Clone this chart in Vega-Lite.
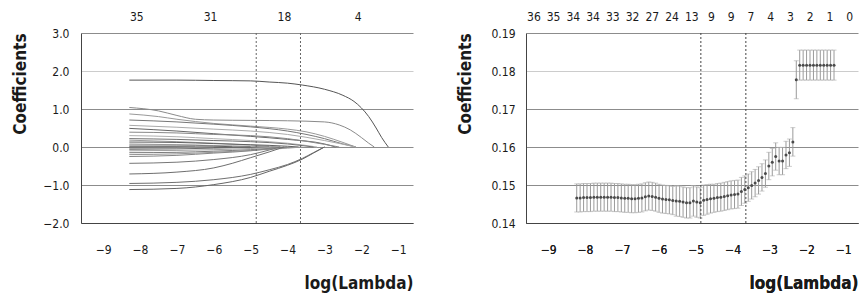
{
  "$schema": "https://vega.github.io/schema/vega-lite/v6.json",
  "background": "white",
  "padding": {"left": 10, "top": 10, "right": 5, "bottom": 5},
  "spacing": 113,
  "bounds": "flush",
  "config": {
    "font": "DejaVu Sans Condensed, Liberation Sans, sans-serif",
    "view": {"stroke": null},
    "axis": {"ticks": false, "tickSize": 0, "labelFontSize": 12, "labelColor": "#1a1a1a", "titleFontSize": 17, "titleFontWeight": "bold", "titleColor": "#1a1a1a", "domainColor": "#444444", "labelOverlap": false, "labelFlush": false, "labelBound": false}
  },
  "hconcat": [
    {
      "width": 332,
      "height": 190,
      "resolve": {"axis": {"x": "independent"}},
      "layer": [
        {
          "data": {"values": [
            {"p":"p01","x":-8.29,"y":1.76},{"p":"p01","x":-7,"y":1.76},{"p":"p01","x":-6,"y":1.75},{"p":"p01","x":-5,"y":1.74},{"p":"p01","x":-4.5,"y":1.71},{"p":"p01","x":-4,"y":1.68},{"p":"p01","x":-3.6,"y":1.63},{"p":"p01","x":-3,"y":1.52},{"p":"p01","x":-2.5,"y":1.36},{"p":"p01","x":-2.2,"y":1.2},{"p":"p01","x":-2,"y":1.03},{"p":"p01","x":-1.8,"y":0.8},{"p":"p01","x":-1.6,"y":0.5},{"p":"p01","x":-1.45,"y":0.25},{"p":"p01","x":-1.27,"y":0},
            {"p":"p02","x":-8.29,"y":1.04},{"p":"p02","x":-7.5,"y":0.95},{"p":"p02","x":-7,"y":0.83},{"p":"p02","x":-6.5,"y":0.73},{"p":"p02","x":-6,"y":0.71},{"p":"p02","x":-5,"y":0.7},{"p":"p02","x":-4,"y":0.69},{"p":"p02","x":-3,"y":0.66},{"p":"p02","x":-2.6,"y":0.58},{"p":"p02","x":-2.3,"y":0.45},{"p":"p02","x":-2,"y":0.25},{"p":"p02","x":-1.8,"y":0.1},{"p":"p02","x":-1.65,"y":0},
            {"p":"p03","x":-8.29,"y":0.87},{"p":"p03","x":-7.5,"y":0.8},{"p":"p03","x":-7,"y":0.73},{"p":"p03","x":-6,"y":0.62},{"p":"p03","x":-5,"y":0.55},{"p":"p03","x":-4,"y":0.47},{"p":"p03","x":-3.5,"y":0.4},{"p":"p03","x":-3,"y":0.28},{"p":"p03","x":-2.5,"y":0.12},{"p":"p03","x":-2.15,"y":0},
            {"p":"p04","x":-8.29,"y":0.71},{"p":"p04","x":-7,"y":0.66},{"p":"p04","x":-6,"y":0.6},{"p":"p04","x":-5,"y":0.53},{"p":"p04","x":-4,"y":0.42},{"p":"p04","x":-3,"y":0.22},{"p":"p04","x":-2.5,"y":0.08},{"p":"p04","x":-2.15,"y":0},
            {"p":"p05","x":-8.29,"y":0.57},{"p":"p05","x":-7,"y":0.52},{"p":"p05","x":-6,"y":0.47},{"p":"p05","x":-5,"y":0.42},{"p":"p05","x":-4,"y":0.33},{"p":"p05","x":-3,"y":0.17},{"p":"p05","x":-2.15,"y":0},
            {"p":"p06","x":-8.29,"y":0.49},{"p":"p06","x":-7,"y":0.42},{"p":"p06","x":-6,"y":0.35},{"p":"p06","x":-5,"y":0.28},{"p":"p06","x":-4,"y":0.2},{"p":"p06","x":-3,"y":0.08},{"p":"p06","x":-2.7,"y":0},
            {"p":"p07","x":-8.29,"y":0.39},{"p":"p07","x":-7,"y":0.37},{"p":"p07","x":-6,"y":0.33},{"p":"p07","x":-5,"y":0.3},{"p":"p07","x":-4,"y":0.22},{"p":"p07","x":-3,"y":0.07},{"p":"p07","x":-2.6,"y":0},
            {"p":"p08","x":-8.29,"y":0.3},{"p":"p08","x":-7,"y":0.27},{"p":"p08","x":-6,"y":0.22},{"p":"p08","x":-5,"y":0.17},{"p":"p08","x":-4,"y":0.1},{"p":"p08","x":-3.2,"y":0},
            {"p":"p09","x":-8.29,"y":0.22},{"p":"p09","x":-7,"y":0.2},{"p":"p09","x":-6,"y":0.17},{"p":"p09","x":-5,"y":0.14},{"p":"p09","x":-4,"y":0.08},{"p":"p09","x":-3.3,"y":0},
            {"p":"p10","x":-8.29,"y":0.18},{"p":"p10","x":-7,"y":0.14},{"p":"p10","x":-6,"y":0.1},{"p":"p10","x":-5,"y":0.05},{"p":"p10","x":-4.2,"y":0},
            {"p":"p11","x":-8.29,"y":0.13},{"p":"p11","x":-7,"y":0.12},{"p":"p11","x":-6,"y":0.09},{"p":"p11","x":-5,"y":0.06},{"p":"p11","x":-4,"y":0.02},{"p":"p11","x":-3.7,"y":0},
            {"p":"p12","x":-8.29,"y":0.08},{"p":"p12","x":-7,"y":0.06},{"p":"p12","x":-6,"y":0.04},{"p":"p12","x":-5,"y":0.02},{"p":"p12","x":-4.5,"y":0},
            {"p":"p13","x":-8.29,"y":0.05},{"p":"p13","x":-7,"y":0.05},{"p":"p13","x":-6,"y":0.03},{"p":"p13","x":-5.5,"y":0},
            {"p":"p14","x":-8.29,"y":0.02},{"p":"p14","x":-7,"y":0.01},{"p":"p14","x":-6.5,"y":0},
            {"p":"p15","x":-8.29,"y":0},{"p":"p15","x":-6.5,"y":0},{"p":"p15","x":-5,"y":0},
            {"p":"p16","x":-8.29,"y":-0.03},{"p":"p16","x":-7,"y":-0.02},{"p":"p16","x":-6,"y":0},
            {"p":"p17","x":-8.29,"y":-0.06},{"p":"p17","x":-7,"y":-0.05},{"p":"p17","x":-6,"y":-0.03},{"p":"p17","x":-5,"y":-0.01},{"p":"p17","x":-4.5,"y":0},
            {"p":"p18","x":-8.29,"y":-0.1},{"p":"p18","x":-7,"y":-0.09},{"p":"p18","x":-6,"y":-0.07},{"p":"p18","x":-5,"y":-0.04},{"p":"p18","x":-4.3,"y":0},
            {"p":"p19","x":-8.29,"y":-0.15},{"p":"p19","x":-7,"y":-0.14},{"p":"p19","x":-6,"y":-0.11},{"p":"p19","x":-5,"y":-0.07},{"p":"p19","x":-4,"y":0},
            {"p":"p20","x":-8.29,"y":-0.2},{"p":"p20","x":-7,"y":-0.18},{"p":"p20","x":-6,"y":-0.14},{"p":"p20","x":-5,"y":-0.09},{"p":"p20","x":-4,"y":-0.03},{"p":"p20","x":-3.6,"y":0},
            {"p":"p21","x":-8.29,"y":-0.25},{"p":"p21","x":-7,"y":-0.22},{"p":"p21","x":-6,"y":-0.16},{"p":"p21","x":-5,"y":-0.1},{"p":"p21","x":-4.2,"y":0},
            {"p":"p22","x":-8.29,"y":-0.43},{"p":"p22","x":-7,"y":-0.4},{"p":"p22","x":-6,"y":-0.33},{"p":"p22","x":-5,"y":-0.2},{"p":"p22","x":-4.5,"y":-0.08},{"p":"p22","x":-4.2,"y":0},
            {"p":"p23","x":-8.29,"y":-0.71},{"p":"p23","x":-7,"y":-0.66},{"p":"p23","x":-6,"y":-0.55},{"p":"p23","x":-5.5,"y":-0.43},{"p":"p23","x":-5,"y":-0.28},{"p":"p23","x":-4.5,"y":-0.13},{"p":"p23","x":-4.1,"y":0},
            {"p":"p24","x":-8.29,"y":-0.96},{"p":"p24","x":-7,"y":-0.93},{"p":"p24","x":-6,"y":-0.86},{"p":"p24","x":-5,"y":-0.72},{"p":"p24","x":-4.5,"y":-0.6},{"p":"p24","x":-4,"y":-0.46},{"p":"p24","x":-3.6,"y":-0.3},{"p":"p24","x":-3.3,"y":-0.15},{"p":"p24","x":-3,"y":0},
            {"p":"p25","x":-8.29,"y":-1.12},{"p":"p25","x":-7,"y":-1.09},{"p":"p25","x":-6,"y":-0.99},{"p":"p25","x":-5,"y":-0.8},{"p":"p25","x":-4.5,"y":-0.64},{"p":"p25","x":-4,"y":-0.48},{"p":"p25","x":-3.6,"y":-0.32},{"p":"p25","x":-3.3,"y":-0.16},{"p":"p25","x":-3,"y":0}
          ]},
          "mark": {"type": "line", "interpolate": "monotone", "strokeWidth": 1},
          "encoding": {
            "x": {"field": "x", "type": "quantitative", "scale": {"domain": [-9.6, -0.6], "nice": false, "zero": false},
              "axis": {"orient": "bottom", "values": [-9,-8,-7,-6,-5,-4,-3,-2,-1], "format": "d", "grid": false, "labelPadding": 21, "title": "log(Lambda)", "titleAnchor": "end", "titleAlign": "right", "titleX": 332, "titleY": 65, "titleBaseline": "alphabetic"}},
            "y": {"field": "y", "type": "quantitative", "scale": {"domain": [-2, 3], "nice": false, "zero": false},
              "axis": {"values": [-2,-1,0,1,2,3], "format": ".1f", "grid": true, "gridColor": {"condition": {"test": "datum.value === 2", "value": "#cccccc"}, "value": "#8c8c8c"}, "labelPadding": 12, "title": "Coefficients", "titleAnchor": "end", "titleAngle": -90, "titleAlign": "right", "titleX": -56, "titleY": 0, "titleBaseline": "alphabetic"}},
            "color": {"field": "p", "type": "nominal", "legend": null, "scale": {"range": ["#555555","#8a8a8a","#999999","#777777","#aaaaaa","#666666","#888888","#b0b0b0","#707070","#9a9a9a","#606060","#a5a5a5","#808080","#b5b5b5","#3c3c3c","#909090","#6a6a6a","#a0a0a0","#7a7a7a","#959595","#858585","#777777","#6e6e6e","#707070","#666666"]}}
          }
        },
        {
          "data": {"values": [{"x": -4.85}, {"x": -3.65}]},
          "mark": {"type": "rule", "color": "#666666", "strokeWidth": 1, "strokeDash": [2, 2]},
          "encoding": {
            "x": {"field": "x", "type": "quantitative", "scale": {"domain": [-9.6, -0.6], "nice": false, "zero": false},
              "axis": {"orient": "top", "values": [-8.1, -6.1, -4.1, -2.1], "labelExpr": "['35','31','18','4'][round(datum.index*3)]", "domain": false, "grid": false, "title": null, "labelPadding": 10}}
          }
        }
      ]
    },
    {
      "width": 332,
      "height": 190,
      "resolve": {"axis": {"x": "independent"}},
      "layer": [
        {
          "data": {"name": "cv", "values": [
            {"x":-8.225,"m":0.1466,"lo":0.1429,"hi":0.1503},{"x":-8.132,"m":0.1466,"lo":0.1429,"hi":0.1503},{"x":-8.039,"m":0.1467,"lo":0.143,"hi":0.1504},{"x":-7.946,"m":0.1467,"lo":0.143,"hi":0.1504},{"x":-7.853,"m":0.1467,"lo":0.143,"hi":0.1504},{"x":-7.76,"m":0.1468,"lo":0.1431,"hi":0.1505},{"x":-7.667,"m":0.1468,"lo":0.1431,"hi":0.1505},{"x":-7.574,"m":0.1468,"lo":0.1431,"hi":0.1505},{"x":-7.481,"m":0.1468,"lo":0.1431,"hi":0.1505},{"x":-7.388,"m":0.1468,"lo":0.1431,"hi":0.1505},{"x":-7.295,"m":0.1468,"lo":0.1431,"hi":0.1505},{"x":-7.202,"m":0.1467,"lo":0.143,"hi":0.1504},{"x":-7.109,"m":0.1467,"lo":0.143,"hi":0.1504},{"x":-7.016,"m":0.1466,"lo":0.1429,"hi":0.1503},{"x":-6.923,"m":0.1465,"lo":0.1428,"hi":0.1502},{"x":-6.83,"m":0.1465,"lo":0.1428,"hi":0.1502},{"x":-6.737,"m":0.1464,"lo":0.1427,"hi":0.1501},{"x":-6.644,"m":0.1464,"lo":0.1427,"hi":0.1501},{"x":-6.551,"m":0.1465,"lo":0.1428,"hi":0.1502},{"x":-6.458,"m":0.1466,"lo":0.1429,"hi":0.1503},{"x":-6.365,"m":0.1469,"lo":0.1432,"hi":0.1506},{"x":-6.272,"m":0.1471,"lo":0.1434,"hi":0.1508},{"x":-6.179,"m":0.147,"lo":0.1433,"hi":0.1507},{"x":-6.086,"m":0.1468,"lo":0.1431,"hi":0.1505},{"x":-5.993,"m":0.1465,"lo":0.1428,"hi":0.1502},{"x":-5.9,"m":0.1463,"lo":0.1426,"hi":0.15},{"x":-5.807,"m":0.1462,"lo":0.1425,"hi":0.1499},{"x":-5.714,"m":0.1461,"lo":0.1424,"hi":0.1498},{"x":-5.621,"m":0.1459,"lo":0.1422,"hi":0.1496},{"x":-5.528,"m":0.1458,"lo":0.1418,"hi":0.1498},{"x":-5.435,"m":0.1457,"lo":0.1417,"hi":0.1497},{"x":-5.342,"m":0.1455,"lo":0.1415,"hi":0.1495},{"x":-5.249,"m":0.1453,"lo":0.1413,"hi":0.1493},{"x":-5.156,"m":0.1453,"lo":0.1413,"hi":0.1493},{"x":-5.063,"m":0.1458,"lo":0.1418,"hi":0.1498},{"x":-4.97,"m":0.1455,"lo":0.1415,"hi":0.1495},{"x":-4.877,"m":0.1453,"lo":0.1413,"hi":0.1493},{"x":-4.784,"m":0.146,"lo":0.142,"hi":0.15},{"x":-4.691,"m":0.1462,"lo":0.1423,"hi":0.1501},{"x":-4.598,"m":0.1464,"lo":0.1426,"hi":0.1502},{"x":-4.505,"m":0.1465,"lo":0.1428,"hi":0.1502},{"x":-4.412,"m":0.1467,"lo":0.143,"hi":0.1504},{"x":-4.319,"m":0.1468,"lo":0.1431,"hi":0.1505},{"x":-4.226,"m":0.147,"lo":0.1433,"hi":0.1507},{"x":-4.133,"m":0.1472,"lo":0.1435,"hi":0.1509},{"x":-4.04,"m":0.1474,"lo":0.1437,"hi":0.1511},{"x":-3.947,"m":0.1475,"lo":0.1438,"hi":0.1512},{"x":-3.854,"m":0.1476,"lo":0.1439,"hi":0.1513},{"x":-3.761,"m":0.1483,"lo":0.1446,"hi":0.152},{"x":-3.668,"m":0.1488,"lo":0.1452,"hi":0.1524},{"x":-3.575,"m":0.1493,"lo":0.1457,"hi":0.1529},{"x":-3.482,"m":0.1499,"lo":0.1463,"hi":0.1535},{"x":-3.389,"m":0.1505,"lo":0.1469,"hi":0.1541},{"x":-3.296,"m":0.1512,"lo":0.1476,"hi":0.1548},{"x":-3.203,"m":0.152,"lo":0.1484,"hi":0.1556},{"x":-3.11,"m":0.153,"lo":0.1494,"hi":0.1566},{"x":-3.017,"m":0.155,"lo":0.1514,"hi":0.1586},{"x":-2.924,"m":0.156,"lo":0.1524,"hi":0.1596},{"x":-2.831,"m":0.1575,"lo":0.1539,"hi":0.1611},{"x":-2.738,"m":0.1563,"lo":0.1527,"hi":0.1599},{"x":-2.645,"m":0.1563,"lo":0.1527,"hi":0.1599},{"x":-2.552,"m":0.1579,"lo":0.1543,"hi":0.1615},{"x":-2.459,"m":0.1585,"lo":0.1549,"hi":0.1621},{"x":-2.366,"m":0.1613,"lo":0.1576,"hi":0.1651},{"x":-2.273,"m":0.1777,"lo":0.1727,"hi":0.1827},
            {"x":-2.18,"m":0.1815,"lo":0.1776,"hi":0.1855},{"x":-2.087,"m":0.1815,"lo":0.1776,"hi":0.1855},{"x":-1.994,"m":0.1815,"lo":0.1776,"hi":0.1855},{"x":-1.901,"m":0.1815,"lo":0.1776,"hi":0.1855},{"x":-1.808,"m":0.1815,"lo":0.1776,"hi":0.1855},{"x":-1.715,"m":0.1815,"lo":0.1776,"hi":0.1855},{"x":-1.622,"m":0.1815,"lo":0.1776,"hi":0.1855},{"x":-1.529,"m":0.1815,"lo":0.1776,"hi":0.1855},{"x":-1.436,"m":0.1815,"lo":0.1776,"hi":0.1855},{"x":-1.343,"m":0.1815,"lo":0.1776,"hi":0.1855},{"x":-1.25,"m":0.1815,"lo":0.1776,"hi":0.1855}
          ]},
          "mark": {"type": "errorbar", "ticks": {"size": 5, "color": "#b8b8b8", "thickness": 1}, "rule": {"color": "#9a9a9a", "strokeWidth": 1}},
          "encoding": {
            "x": {"field": "x", "type": "quantitative", "scale": {"domain": [-9.6, -0.6], "nice": false, "zero": false},
              "axis": {"orient": "bottom", "values": [-9,-8,-7,-6,-5,-4,-3,-2,-1], "format": "d", "grid": false, "labelPadding": 21, "title": "log(Lambda)", "titleAnchor": "end", "titleAlign": "right", "titleX": 332, "titleY": 65, "titleBaseline": "alphabetic"}},
            "y": {"field": "lo", "type": "quantitative", "scale": {"domain": [0.14, 0.19], "nice": false, "zero": false},
              "axis": {"values": [0.14, 0.15, 0.16, 0.17, 0.18, 0.19], "format": ".2f", "grid": true, "gridColor": {"condition": {"test": "abs(datum.value - 0.18) < 0.0001", "value": "#cccccc"}, "value": "#8c8c8c"}, "labelPadding": 11, "title": "Coefficients", "titleAnchor": "end", "titleAngle": -90, "titleAlign": "right", "titleX": -56, "titleY": 0, "titleBaseline": "alphabetic"}},
            "y2": {"field": "hi"}
          }
        },
        {
          "data": {"name": "cv"},
          "mark": {"type": "circle", "size": 9, "color": "#4a4a4a", "opacity": 1},
          "encoding": {
            "x": {"field": "x", "type": "quantitative", "scale": {"domain": [-9.6, -0.6], "nice": false, "zero": false},
              "axis": {"orient": "bottom", "values": [-9,-8,-7,-6,-5,-4,-3,-2,-1], "format": "d", "grid": false, "labelPadding": 21, "title": "log(Lambda)", "titleAnchor": "end", "titleAlign": "right", "titleX": 332, "titleY": 65, "titleBaseline": "alphabetic"}},
            "y": {"field": "m", "type": "quantitative", "scale": {"domain": [0.14, 0.19], "nice": false, "zero": false},
              "axis": {"values": [0.14, 0.15, 0.16, 0.17, 0.18, 0.19], "format": ".2f", "grid": true, "gridColor": {"condition": {"test": "abs(datum.value - 0.18) < 0.0001", "value": "#cccccc"}, "value": "#8c8c8c"}, "labelPadding": 11, "title": "Coefficients", "titleAnchor": "end", "titleAngle": -90, "titleAlign": "right", "titleX": -56, "titleY": 0, "titleBaseline": "alphabetic"}}
          }
        },
        {
          "data": {"values": [{"x": -4.86}, {"x": -3.64}]},
          "mark": {"type": "rule", "color": "#444444", "strokeWidth": 1, "strokeDash": [2, 2]},
          "encoding": {
            "x": {"field": "x", "type": "quantitative", "scale": {"domain": [-9.6, -0.6], "nice": false, "zero": false},
              "axis": {"orient": "top", "values": [-9.4, -8.865, -8.33, -7.795, -7.26, -6.725, -6.19, -5.655, -5.12, -4.585, -4.05, -3.515, -2.98, -2.445, -1.91, -1.375, -0.84], "labelExpr": "['36','35','34','34','33','32','27','24','13','9','9','7','4','3','2','1','0'][round(datum.index*16)]", "domain": false, "grid": false, "title": null, "labelPadding": 10}}
          }
        }
      ]
    }
  ]
}
